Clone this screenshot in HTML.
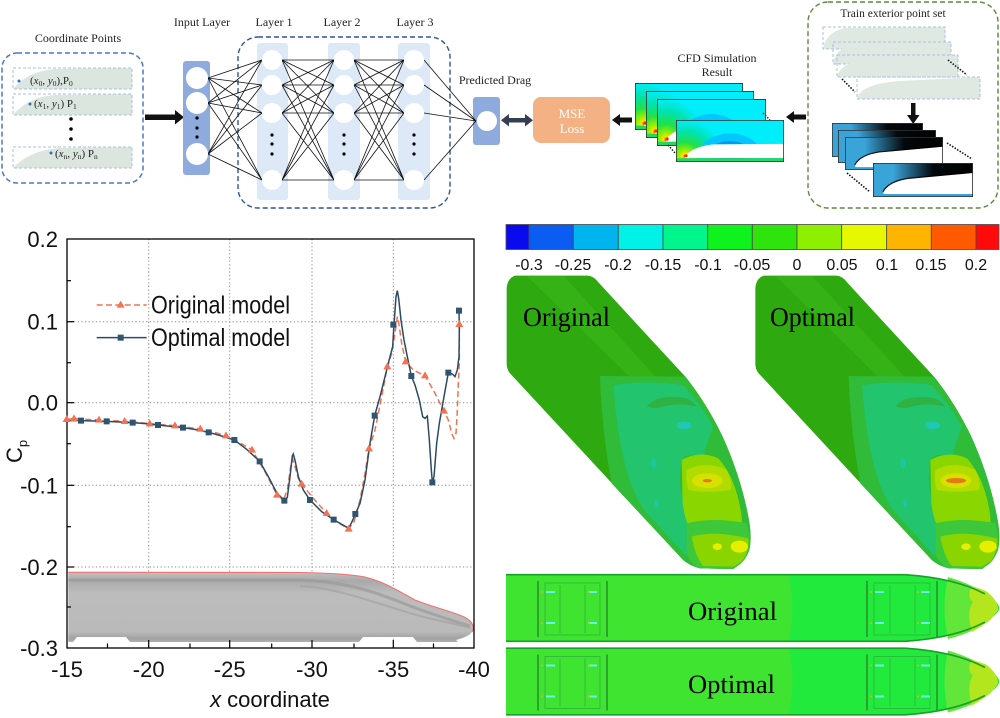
<!DOCTYPE html>
<html><head><meta charset="utf-8"><style>
html,body{margin:0;padding:0;background:#fff;}
svg{display:block;}
.serif{font-family:"Liberation Serif","Times New Roman",serif;}
.sans{font-family:"Liberation Sans",Arial,sans-serif;}
</style></head><body>
<svg width="1000" height="718" viewBox="0 0 1000 718" xmlns="http://www.w3.org/2000/svg">
<defs>
 <radialGradient id="cfdR" gradientUnits="userSpaceOnUse" cx="9" cy="38" r="48">
  <stop offset="0" stop-color="#ff2a00"/><stop offset="0.05" stop-color="#ffe000"/>
  <stop offset="0.13" stop-color="#9af000"/><stop offset="0.3" stop-color="#22e048"/>
  <stop offset="0.55" stop-color="#00e2b0"/><stop offset="0.8" stop-color="#00eefc"/>
  <stop offset="1" stop-color="#00eefc"/>
 </radialGradient>
 <linearGradient id="blkG" x1="0" y1="0" x2="1" y2="0">
  <stop offset="0.1" stop-color="#000" stop-opacity="0"/><stop offset="0.55" stop-color="#000" stop-opacity="0.95"/><stop offset="1" stop-color="#000" stop-opacity="1"/>
 </linearGradient>
 <linearGradient id="gtr" x1="0" y1="0" x2="0" y2="1">
  <stop offset="0" stop-color="#c0c0c0"/><stop offset="0.12" stop-color="#a9a9a9"/>
  <stop offset="0.3" stop-color="#bcbcbc"/><stop offset="0.85" stop-color="#bababa"/>
  <stop offset="0.95" stop-color="#a2a2a2"/><stop offset="1" stop-color="#b0b0b0"/>
 </linearGradient>
 <symbol id="cfd" viewBox="0 0 108 44" preserveAspectRatio="none">
  <rect x="0" y="0" width="108" height="44" fill="url(#cfdR)"/>
  <ellipse cx="54" cy="38" rx="32" ry="24" fill="#00c8ff"/>
  <ellipse cx="54" cy="38" rx="23" ry="16" fill="#009af0"/>
  <ellipse cx="54" cy="38" rx="15" ry="10" fill="#0062e2"/>
  <ellipse cx="54" cy="38" rx="8" ry="5" fill="#0030d0"/>
  <path d="M9,38 Q16,28 37,25.5 L108,25 L108,40 L9,40 Z" fill="#fff"/>
  <rect x="0" y="40" width="108" height="4" fill="#22d860"/>
  <circle cx="10" cy="37.5" r="1.6" fill="#ff2a00"/>
  <rect x="0.4" y="0.4" width="107.2" height="43.2" fill="none" stroke="#333" stroke-width="0.8"/>
 </symbol>
 <symbol id="bb" viewBox="0 0 95 34" preserveAspectRatio="none">
  <rect x="0" y="0" width="95" height="34" fill="#3aa3d8"/>
  <path d="M18,0 L95,0 L95,11 L33,16 Q18,19 11,27 Q13,12 18,0 Z" fill="url(#blkG)"/>
  <path d="M10,29 Q15,19 33,16 L95,10" fill="none" stroke="#000" stroke-width="2.5" opacity="0.85"/>
  <path d="M10,29 Q15,19 33,16 L95,10 L95,31 L10,31 Z" fill="#fff"/>
  <rect x="0.4" y="0.4" width="94.2" height="33.2" fill="none" stroke="#333" stroke-width="0.8"/>
 </symbol>
</defs>

<!-- ================= TOP DIAGRAM ================= -->
<g class="serif" fill="#222">
 <text x="78" y="42" font-size="12" text-anchor="middle">Coordinate Points</text>
 <text x="202" y="26" font-size="12" text-anchor="middle">Input Layer</text>
 <text x="274" y="26" font-size="12" text-anchor="middle">Layer 1</text>
 <text x="342" y="26" font-size="12" text-anchor="middle">Layer 2</text>
 <text x="415" y="26" font-size="12" text-anchor="middle">Layer 3</text>
 <text x="495" y="84" font-size="12" text-anchor="middle">Predicted Drag</text>
 <text x="717" y="62" font-size="12" text-anchor="middle">CFD Simulation</text>
 <text x="717" y="76" font-size="12" text-anchor="middle">Result</text>
 <text x="893" y="17" font-size="11.5" text-anchor="middle">Train exterior point set</text>
</g>

<!-- left coordinate box -->
<rect x="2" y="53" width="141" height="130" rx="15" fill="none" stroke="#4a78c8" stroke-width="1.5" stroke-dasharray="5,3"/>
<g>
 <path d="M13,89 Q28,71 55,69 L132,68 L132,89 Z" fill="#dbe7de"/>
 <rect x="13" y="68" width="119" height="21" fill="none" stroke="#a9c0e6" stroke-width="1" stroke-dasharray="3,2"/>
 <path d="M13,115 Q28,97 55,95 L132,94 L132,115 Z" fill="#dbe7de"/>
 <rect x="13" y="94" width="119" height="21" fill="none" stroke="#a9c0e6" stroke-width="1" stroke-dasharray="3,2"/>
 <path d="M13,168 Q30,150 60,148 L132,147 L132,168 Z" fill="#dbe7de"/>
 <rect x="13" y="147" width="119" height="21" fill="none" stroke="#a9c0e6" stroke-width="1" stroke-dasharray="3,2"/>
 <circle cx="19" cy="81" r="1.5" fill="#3a6cc8"/>
 <circle cx="30" cy="104" r="1.5" fill="#3a6cc8"/>
 <circle cx="51" cy="153" r="1.5" fill="#3a6cc8"/>
 <g class="serif" font-size="11" fill="#222">
  <text x="30" y="84">(<tspan font-style="italic">x</tspan><tspan font-size="7.5" dy="2">0</tspan><tspan dy="-2">, </tspan><tspan font-style="italic">y</tspan><tspan font-size="7.5" dy="2">0</tspan><tspan dy="-2">),P</tspan><tspan font-size="7.5" dy="2">0</tspan></text>
  <text x="34" y="107">(<tspan font-style="italic">x</tspan><tspan font-size="7.5" dy="2">1</tspan><tspan dy="-2">, </tspan><tspan font-style="italic">y</tspan><tspan font-size="7.5" dy="2">1</tspan><tspan dy="-2">) P</tspan><tspan font-size="7.5" dy="2">1</tspan></text>
  <text x="55" y="157">(<tspan font-style="italic">x</tspan><tspan font-size="7.5" dy="2">n</tspan><tspan dy="-2">, </tspan><tspan font-style="italic">y</tspan><tspan font-size="7.5" dy="2">n</tspan><tspan dy="-2">) P</tspan><tspan font-size="7.5" dy="2">n</tspan></text>
 </g>
 <circle cx="71" cy="119" r="1.8" fill="#000"/>
 <circle cx="71" cy="129" r="1.8" fill="#000"/>
 <circle cx="71" cy="139" r="1.8" fill="#000"/>
</g>
<!-- big arrow -->
<rect x="145" y="114.5" width="31" height="5.5" fill="#111"/>
<polygon points="175,110 184,117.2 175,124.5" fill="#111"/>

<!-- network -->
<rect x="238" y="37" width="212" height="171" rx="20" fill="none" stroke="#2f5597" stroke-width="1.4" stroke-dasharray="5,3"/>
<rect x="183" y="61" width="27" height="114" rx="3" fill="#8faadc"/>
<rect x="257" y="43" width="31" height="157" rx="3" fill="#dde9f6"/>
<rect x="328" y="43" width="32" height="157" rx="3" fill="#dde9f6"/>
<rect x="398" y="43" width="32" height="157" rx="3" fill="#dde9f6"/>
<rect x="473" y="97" width="27" height="48" rx="3" fill="#8faadc"/>
<path stroke="#111" stroke-width="0.8" fill="none" d="
M208 78L262 60M208 78L262 85M208 78L262 113M208 78L262 180
M208 103L262 60M208 103L262 85M208 103L262 113M208 103L262 180
M208 154L262 60M208 154L262 85M208 154L262 113M208 154L262 180
M282 60L334 60M282 60L334 85M282 60L334 113M282 60L334 180
M282 85L334 60M282 85L334 85M282 85L334 113M282 85L334 180
M282 113L334 60M282 113L334 85M282 113L334 113M282 113L334 180
M282 180L334 60M282 180L334 85M282 180L334 113M282 180L334 180
M354 60L404 60M354 60L404 85M354 60L404 113M354 60L404 180
M354 85L404 60M354 85L404 85M354 85L404 113M354 85L404 180
M354 113L404 60M354 113L404 85M354 113L404 113M354 113L404 180
M354 180L404 60M354 180L404 85M354 180L404 113M354 180L404 180
M424 60L476 121M424 85L476 121M424 113L476 121M424 180L476 121"/>
<g fill="#fff">
 <circle cx="197" cy="78" r="11"/><circle cx="197" cy="103" r="11"/><circle cx="197" cy="154" r="11"/>
 <circle cx="272" cy="60" r="10"/><circle cx="272" cy="85" r="10"/><circle cx="272" cy="113" r="10"/><circle cx="272" cy="180" r="10"/>
 <circle cx="344" cy="60" r="10"/><circle cx="344" cy="85" r="10"/><circle cx="344" cy="113" r="10"/><circle cx="344" cy="180" r="10"/>
 <circle cx="414" cy="60" r="10"/><circle cx="414" cy="85" r="10"/><circle cx="414" cy="113" r="10"/><circle cx="414" cy="180" r="10"/>
 <circle cx="487" cy="121" r="10"/>
</g>
<g fill="#000">
 <circle cx="197" cy="118" r="1.6"/><circle cx="197" cy="128" r="1.6"/><circle cx="197" cy="137" r="1.6"/>
 <circle cx="272" cy="135" r="1.6"/><circle cx="272" cy="144" r="1.6"/><circle cx="272" cy="154" r="1.6"/>
 <circle cx="344" cy="135" r="1.6"/><circle cx="344" cy="144" r="1.6"/><circle cx="344" cy="154" r="1.6"/>
 <circle cx="414" cy="135" r="1.6"/><circle cx="414" cy="144" r="1.6"/><circle cx="414" cy="154" r="1.6"/>
</g>
<!-- double arrow -->
<rect x="508" y="118" width="18" height="4.5" fill="#333f50"/>
<polygon points="501,120.2 509,114 509,126.5" fill="#333f50"/>
<polygon points="533,120.2 525,114 525,126.5" fill="#333f50"/>
<!-- MSE -->
<rect x="533" y="97" width="77" height="46" rx="8" fill="#f4b183"/>
<text x="572" y="118" class="serif" font-size="13" fill="#fff" text-anchor="middle">MSE</text>
<text x="572" y="133" class="serif" font-size="13" fill="#fff" text-anchor="middle">Loss</text>
<!-- arrow left -->
<rect x="619" y="117.5" width="13" height="5" fill="#111"/>
<polygon points="612,120 620,114 620,126" fill="#111"/>
<!-- cfd stack -->
<use href="#cfd" x="635" y="83" width="108" height="47"/>
<use href="#cfd" x="646" y="91" width="108" height="47"/>
<use href="#cfd" x="657" y="99" width="109" height="47"/>
<use href="#cfd" x="676" y="120" width="108" height="42"/>
<path d="M763,113 L770,120 M668,145 L675,153" stroke="#111" stroke-width="1.4" stroke-dasharray="1.5,1.5"/>
<!-- arrow left 2 -->
<rect x="793" y="114.5" width="13" height="5" fill="#111"/>
<polygon points="786,117 794,111 794,123" fill="#111"/>
<!-- green dashed box -->
<rect x="808" y="2" width="190" height="206" rx="20" fill="none" stroke="#5b8a3a" stroke-width="1.4" stroke-dasharray="5,3"/>
<g>
 <path d="M823,49 Q826,32 845,28 L945,27 L945,49 Z" fill="#dfe9e2"/>
 <rect x="823" y="27" width="122" height="22" fill="none" stroke="#a9c0e6" stroke-dasharray="3,2"/>
 <path d="M833,64 Q836,47 855,43 L951,42 L951,64 Z" fill="#dfe9e2"/>
 <rect x="833" y="42" width="118" height="22" fill="none" stroke="#a9c0e6" stroke-dasharray="3,2"/>
 <path d="M837,77 Q840,62 870,58 L958,55 L958,77 Z" fill="#dfe9e2"/>
 <rect x="837" y="55" width="121" height="22" fill="none" stroke="#a9c0e6" stroke-dasharray="3,2"/>
 <path d="M857,99 Q860,84 900,81 L980,77 L980,99 Z" fill="#dfe9e2"/>
 <rect x="857" y="77" width="123" height="22" fill="none" stroke="#a9c0e6" stroke-dasharray="3,2"/>
 <path d="M948,60 L967,75 M842,79 L855,92" stroke="#111" stroke-width="1.6" stroke-dasharray="1.5,1.5"/>
</g>
<rect x="911" y="103" width="4.5" height="13" fill="#111"/>
<polygon points="907,115 919.5,115 913.2,124" fill="#111"/>
<use href="#bb" x="832" y="123" width="91" height="34"/>
<use href="#bb" x="838" y="130" width="98" height="33"/>
<use href="#bb" x="845" y="137" width="98" height="33"/>
<use href="#bb" x="873" y="163" width="100" height="34"/>
<path d="M947,143 L972,159 M847,173 L870,192" stroke="#111" stroke-width="1.6" stroke-dasharray="1.5,1.5"/>

<!-- ================= CHART ================= -->
<g stroke="#888" stroke-width="1" stroke-dasharray="1.2,2.4">
 <line x1="148.7" y1="239" x2="148.7" y2="648"/>
 <line x1="229.7" y1="239" x2="229.7" y2="648"/>
 <line x1="312" y1="239" x2="312" y2="648"/>
 <line x1="393.3" y1="239" x2="393.3" y2="648"/>
 <line x1="67" y1="321.7" x2="474" y2="321.7"/>
 <line x1="67" y1="402.7" x2="474" y2="402.7"/>
 <line x1="67" y1="485.3" x2="474" y2="485.3"/>
 <line x1="67" y1="567" x2="474" y2="567"/>
</g>
<!-- gray train -->
<g>
 <path d="M68.3,572.3 L300,572.5 C330,573 350,574 365,577 C385,582 400,592 415,600 C435,608 455,612 466,618 C473,622 475,628 472,632 C469,636 463,638 456,640 L458,642 L417,642 L413,637 L363,637 L359,642 L130,642 L126,637 L77,637 L73,642 L68.3,642 Z" fill="url(#gtr)"/>
 <path d="M68.3,580 L300,580 C340,581 370,590 400,602 C425,612 450,620 470,626" stroke="#9a9a9a" stroke-width="3" fill="none" opacity="0.7"/>
 <path d="M300,586 C340,588 380,605 420,616 C440,621 460,625 470,628" stroke="#a3a3a3" stroke-width="2" fill="none" opacity="0.7"/>
 <path d="M68.3,572.3 L300,572.5 C330,573 350,574 365,577 C385,582 400,592 415,600 C435,608 455,612 466,618 C473,622 475,628 472,632" stroke="#f27070" stroke-width="1.1" fill="none"/>
</g>
<!-- frame -->
<rect x="67" y="239" width="407" height="409" fill="none" stroke="#000" stroke-width="1.3"/>
<g stroke="#000" stroke-width="1.2">
 <line x1="67" y1="280.7" x2="71" y2="280.7"/><line x1="67" y1="362.7" x2="71" y2="362.7"/>
 <line x1="67" y1="443.7" x2="71" y2="443.7"/><line x1="67" y1="526.7" x2="71" y2="526.7"/>
 <line x1="67" y1="607" x2="71" y2="607"/>
 <line x1="67" y1="321.7" x2="74" y2="321.7"/><line x1="67" y1="402.7" x2="74" y2="402.7"/>
 <line x1="67" y1="485.3" x2="74" y2="485.3"/><line x1="67" y1="567" x2="74" y2="567"/>
 <line x1="107.5" y1="648" x2="107.5" y2="643.5"/><line x1="190" y1="648" x2="190" y2="643.5"/>
 <line x1="271.7" y1="648" x2="271.7" y2="643.5"/><line x1="354" y1="648" x2="354" y2="643.5"/>
 <line x1="433.5" y1="648" x2="433.5" y2="643.5"/>
 <line x1="148.7" y1="648" x2="148.7" y2="640"/><line x1="229.7" y1="648" x2="229.7" y2="640"/>
 <line x1="312" y1="648" x2="312" y2="640"/><line x1="393.3" y1="648" x2="393.3" y2="640"/>
</g>
<!-- data -->
<g transform="translate(0,210) scale(0.333333)">
 <polyline fill="none" stroke="#f27253" stroke-width="4.5" stroke-dasharray="18,10" points="200,628 222,626 260,628 297,630 336,632 374,634 412,637 449,641 487,644 525,647 563,652 601,657 640,666 678,677 718,697 756,720 795,785 831,855 850,870 862,840 872,770 878,748 885,770 895,805 905,822 940,865 980,910 1010,935 1046,957 1062,935 1080,870 1095,790 1107,716 1125,660 1145,560 1162,470 1175,430 1185,370 1192,320 1198,350 1205,400 1217,455 1240,480 1260,490 1275,497 1300,540 1320,580 1332,603 1345,630 1355,670 1362,685 1368,670 1372,600 1375,520 1378,460 1378,343"/>
 <polyline fill="none" stroke="#2b4b62" stroke-width="4.5" points="200,632 243,632 280,633 320,634 360,636 398,638 436,641 474,645 512,649 549,653 588,659 626,667 665,678 703,690 740,718 779,754 805,800 830,848 853,872 862,862 870,800 877,738 880,732 886,755 895,800 910,840 930,870 965,905 1001,929 1025,943 1046,955 1056,935 1066,912 1080,880 1095,810 1110,700 1124,617 1140,560 1155,500 1170,440 1178,410 1182,344 1188,260 1192,242 1196,265 1203,330 1212,390 1222,440 1234,498 1245,525 1258,570 1268,620 1275,625 1282,618 1288,690 1294,780 1297,817 1302,800 1310,700 1318,640 1332,560 1345,488 1357,492 1365,500 1372,480 1377,440 1378,360 1377,302"/>
 <g fill="#f27253">
  <path d="M200,615l12,21h-24z M222,613l12,21h-24z M297,617l12,21h-24z M374,621l12,21h-24z M449,628l12,21h-24z M525,634l12,21h-24z M601,644l12,21h-24z M678,664l12,21h-24z M756,707l12,21h-24z M831,842l12,21h-24z M905,809l12,21h-24z M980,897l12,21h-24z M1046,944l12,21h-24z M1107,703l12,21h-24z M1162,457l12,21h-24z M1217,442l12,21h-24z M1275,484l12,21h-24z M1332,590l12,21h-24z M1378,330l12,21h-24z"/>
 </g>
 <g fill="#2f5570">
  <path d="M234,623h18v18h-18z M311,625h18v18h-18z M389,629h18v18h-18z M465,636h18v18h-18z M540,644h18v18h-18z M617,658h18v18h-18z M694,681h18v18h-18z M770,745h18v18h-18z M844,863h18v18h-18z M921,861h18v18h-18z M992,920h18v18h-18z M1057,903h18v18h-18z M1115,608h18v18h-18z M1171,335h18v18h-18z M1225,489h18v18h-18z M1288,808h18v18h-18z M1336,479h18v18h-18z M1368,293h18v18h-18z"/>
 </g>
 <!-- legend -->
 <line x1="290" y1="285" x2="440" y2="285" stroke="#f27253" stroke-width="4.5" stroke-dasharray="18,10"/>
 <path d="M362,272l12,21h-24z" fill="#f27253"/>
 <line x1="290" y1="383" x2="440" y2="383" stroke="#2b4b62" stroke-width="4.5"/>
 <path d="M353,374h18v18h-18z" fill="#2f5570"/>
</g>
<g class="sans" fill="#111">
 <text x="151" y="313.5" font-size="25" textLength="139" lengthAdjust="spacingAndGlyphs">Original model</text>
 <text x="151" y="346" font-size="25" textLength="139" lengthAdjust="spacingAndGlyphs">Optimal model</text>
 <g font-size="22" text-anchor="end">
  <text x="58" y="247">0.2</text>
  <text x="58" y="329.7">0.1</text>
  <text x="58" y="410.7">0.0</text>
  <text x="58" y="493.3">-0.1</text>
  <text x="58" y="575">-0.2</text>
  <text x="58" y="656">-0.3</text>
 </g>
 <g font-size="22" text-anchor="middle">
  <text x="67" y="677">-15</text>
  <text x="148.7" y="677">-20</text>
  <text x="229.7" y="677">-25</text>
  <text x="312" y="677">-30</text>
  <text x="393.3" y="677">-35</text>
  <text x="474" y="677">-40</text>
 </g>
 <text x="270" y="707" font-size="22" text-anchor="middle"><tspan font-style="italic">x</tspan> coordinate</text>
 <text transform="translate(22,463) rotate(-90)" font-size="22">C<tspan font-size="13" dy="5">p</tspan></text>
</g>

<!-- ================= COLORBAR ================= -->
<g stroke="#4a4a4a" stroke-width="0.8">
 <rect x="506" y="224.5" width="23" height="25" fill="#0a0aef"/>
 <rect x="529" y="224.5" width="44.3" height="25" fill="#0b5cf0"/>
 <rect x="573.3" y="224.5" width="45" height="25" fill="#00b4f0"/>
 <rect x="618.3" y="224.5" width="44.7" height="25" fill="#00f2e6"/>
 <rect x="663" y="224.5" width="44.7" height="25" fill="#00f58c"/>
 <rect x="707.7" y="224.5" width="44.6" height="25" fill="#0ef21e"/>
 <rect x="752.3" y="224.5" width="44.7" height="25" fill="#2ee40c"/>
 <rect x="797" y="224.5" width="44.7" height="25" fill="#8ef000"/>
 <rect x="841.7" y="224.5" width="45" height="25" fill="#e6f800"/>
 <rect x="886.7" y="224.5" width="44.6" height="25" fill="#ffb400"/>
 <rect x="931.3" y="224.5" width="44.7" height="25" fill="#ff5a00"/>
 <rect x="976" y="224.5" width="23" height="25" fill="#ff0a0a"/>
</g>
<g class="sans" font-size="16" fill="#111" text-anchor="middle">
 <text x="529" y="270">-0.3</text><text x="573" y="270">-0.25</text><text x="618" y="270">-0.2</text>
 <text x="663" y="270">-0.15</text><text x="708" y="270">-0.1</text><text x="752" y="270">-0.05</text>
 <text x="797" y="270">0</text><text x="842" y="270">0.05</text><text x="887" y="270">0.1</text>
 <text x="931" y="270">0.15</text><text x="976" y="270">0.2</text>
</g>

<!-- ================= 3D TRAINS ================= -->
<g transform="translate(500,270) scale(0.333333)">
 <g id="t3d">
  <path d="M45,17 L262,17 Q282,18 296,38 L556,320 Q620,400 668,500 Q722,620 745,740 Q757,800 748,840 Q735,875 712,888 L700,897 L600,895 Q560,885 540,860 L30,310 Q20,298 20,280 L20,55 Q22,25 45,17 Z" fill="#2eaa10"/>
  <polygon points="80,17 190,17 540,400 470,400" fill="#3cbc1e" opacity="0.45"/>
  <path d="M300,318 L556,320 Q620,400 668,500 Q722,620 745,740 Q757,800 748,840 Q735,875 712,888 L700,897 L600,895 Q560,885 540,860 L335,640 Q305,480 300,318 Z" fill="#30bb38"/>
  <path d="M340,345 Q450,330 548,345 Q600,400 640,470 Q620,520 610,560 Q560,545 545,570 Q530,650 560,720 L560,860 L450,740 Q362,650 340,345 Z" fill="#22c46e"/>
  <path d="M440,410 Q470,370 560,385 Q580,395 590,410 Q530,395 470,415 Z" fill="#2eb244"/>
  <ellipse cx="552" cy="466" rx="22" ry="12" fill="#1ec8b2"/>
  <ellipse cx="462" cy="580" rx="8" ry="14" fill="#1ec8b2" opacity="0.8"/>
  <ellipse cx="470" cy="700" rx="6" ry="12" fill="#1ec8b2" opacity="0.8"/>
  <path d="M545,570 Q600,540 655,565 Q705,620 722,720 Q735,790 700,805 Q640,790 600,805 Q560,790 548,700 Z" fill="#8ad600"/>
  <path d="M560,600 Q620,570 680,600 Q700,640 690,660 Q620,670 565,660 Q555,630 560,600 Z" fill="#b2dc00"/>
  <ellipse cx="622" cy="632" rx="46" ry="22" fill="#d8e000"/>
  <ellipse cx="622" cy="632" rx="14" ry="5" fill="#e57a18"/>
  <path d="M560,760 Q640,740 740,760 Q752,800 748,840 Q735,875 712,888 L700,897 L600,895 Q570,880 560,850 Z" fill="#3cc83a"/>
  <path d="M575,800 Q640,780 745,805 Q748,845 725,875 L700,890 L610,888 Q585,860 575,800 Z" fill="#8ad400"/>
  <ellipse cx="652" cy="830" rx="14" ry="10" fill="#e6ef00"/>
  <ellipse cx="718" cy="830" rx="26" ry="18" fill="#e6ef00"/>
 </g>
 <use href="#t3d" x="746" y="0"/>
 <ellipse cx="1368" cy="632" rx="30" ry="8" fill="#e57a18"/>
</g>
<g class="serif" fill="#000" font-size="27">
 <text x="523" y="326" textLength="87" lengthAdjust="spacingAndGlyphs">Original</text>
 <text x="770" y="326" textLength="85" lengthAdjust="spacingAndGlyphs">Optimal</text>
</g>

<!-- ================= BOTTOM TRAINS ================= -->
<g id="btr">
 <path d="M506,574 L905,574 Q955,578 985,594 Q1000,603 999,608 Q1000,613 985,622 Q955,638 905,642 L506,642 Z" fill="#22ea3c"/>
 <path d="M506,574 L788,574 Q797,608 788,642 L506,642 Z" fill="#3ee430"/>
 <path d="M948,577 Q941,608 948,639 Q975,632 990,620 Q1000,610 990,597 Q975,585 948,577 Z" fill="#62e63a"/>
 <path d="M972,586 Q966,596 973,602 Q966,612 972,632 Q990,622 998,610 Q998,600 986,591 Z" fill="#b4e61e"/>
 <path d="M506,574.7 L905,574.7 Q955,578 985,594" stroke="#1a9f2a" stroke-width="1.6" fill="none"/>
 <path d="M506,641.3 L905,641.3 Q955,638 985,622" stroke="#1a9f2a" stroke-width="1.6" fill="none"/>
 <g stroke="#2a922e" stroke-width="1.6" fill="none">
  <line x1="538" y1="581" x2="538" y2="637"/><line x1="607" y1="581" x2="607" y2="637"/>
  <line x1="867" y1="581" x2="867" y2="637"/><line x1="937" y1="581" x2="937" y2="637"/>
 </g>
 <g stroke="#2fb23a" stroke-width="0.8" fill="none">
  <rect x="545" y="583" width="55" height="52"/><rect x="874" y="583" width="56" height="52"/>
  <line x1="560" y1="585" x2="560" y2="633"/><line x1="585" y1="585" x2="585" y2="633"/>
  <line x1="890" y1="585" x2="890" y2="633"/><line x1="915" y1="585" x2="915" y2="633"/>
 </g>
 <g fill="#6ff0f0">
  <rect x="546" y="591" width="9" height="2"/><rect x="546" y="622" width="9" height="2"/>
  <rect x="588" y="591" width="9" height="2"/><rect x="588" y="622" width="9" height="2"/>
  <rect x="875" y="591" width="9" height="2"/><rect x="875" y="622" width="9" height="2"/>
  <rect x="921" y="591" width="9" height="2"/><rect x="921" y="622" width="9" height="2"/>
 </g>
 <g fill="#e6b400">
  <circle cx="542" cy="592" r="1"/><circle cx="542" cy="623" r="1"/><circle cx="589" cy="592" r="1"/><circle cx="589" cy="623" r="1"/>
  <circle cx="871" cy="592" r="1"/><circle cx="871" cy="623" r="1"/><circle cx="918" cy="592" r="1"/><circle cx="918" cy="623" r="1"/>
 </g>
</g>
<use href="#btr" x="0" y="73.5"/>
<g class="serif" fill="#000" font-size="26">
 <text x="688" y="620" textLength="89" lengthAdjust="spacingAndGlyphs">Original</text>
 <text x="688" y="693" textLength="87" lengthAdjust="spacingAndGlyphs">Optimal</text>
</g>
</svg>
</body></html>
